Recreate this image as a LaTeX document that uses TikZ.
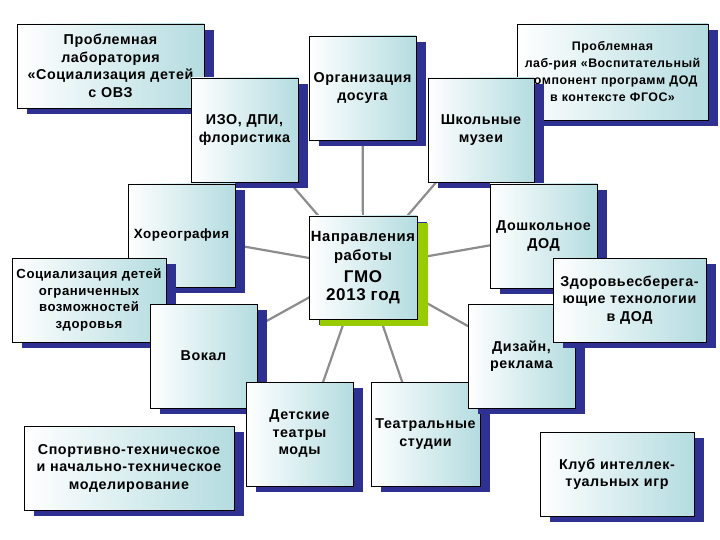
\documentclass[tikz,border=0pt]{standalone}
\usepackage{fontspec}
\setmainfont{Liberation Sans}[LetterSpace=4]
\usetikzlibrary{shadows}
\definecolor{navy}{HTML}{2E3192}
\definecolor{tealc}{HTML}{B4DCE0}
\definecolor{lime}{HTML}{99CC00}
\tikzset{
  bx/.style={draw=black, line width=0.8pt, left color=white, right color=tealc,
    inner sep=1pt, align=center, font=\fontsize{14.3}{17.5}\selectfont\bfseries,
    drop shadow={shadow xshift=10pt, shadow yshift=-6pt, fill=navy, opacity=1}},
  gbx/.style={bx, drop shadow={shadow xshift=11pt, shadow yshift=-7pt, fill=lime, opacity=1}},
  ln/.style={draw=gray!90, line width=2.2pt}
}
\begin{document}
\begin{tikzpicture}[x=1pt,y=-1pt]
\useasboundingbox (0,0) rectangle (720,540);
\coordinate (c) at (363,267.5);
\coordinate (pizo) at (244.5,130);
\coordinate (porg) at (362.5,88);
\coordinate (pshk) at (481,130);
\coordinate (phor) at (181.5,235.5);
\coordinate (pdosh) at (543.5,236);
\coordinate (pvok) at (203.5,356);
\coordinate (pdiz) at (521.5,356);
\coordinate (pdet) at (305,434);
\coordinate (pteat) at (420,434);
\foreach \p in {pizo,porg,pshk,phor,pdosh,pvok,pdiz,pdet,pteat} \draw[ln] (c) -- (\p);
\node[bx, minimum width=187pt, minimum height=84pt, text width=185pt] (b1) at (110.5,66) {Проблемная\\лаборатория\\«Социализация детей\\с ОВЗ};
\node[bx, minimum width=107pt, minimum height=104pt, text width=105pt] (org) at (porg) {Организация\\досуга};
\node[bx, minimum width=107pt, minimum height=104pt, text width=105pt] (izo) at (pizo) {ИЗО, ДПИ,\\флористика};
\node[bx, minimum width=191pt, minimum height=96pt, text width=189pt, font=\fontsize{12.4}{17}\selectfont\bfseries] (lab2) at (612.5,72) {Проблемная\\лаб-рия «Воспитательный\\компонент программ ДОД\\в контексте ФГОС»};
\node[bx, minimum width=106pt, minimum height=104pt, text width=104pt] (shk) at (pshk) {Школьные\\музеи};
\node[bx, minimum width=107pt, minimum height=103pt, text width=105pt, font=\fontsize{13.4}{16}\selectfont\bfseries] (hor) at (phor) {Хореография};
\node[bx, minimum width=154pt, minimum height=84pt, text width=152pt, font=\fontsize{13.2}{16.5}\selectfont\bfseries] (soc) at (89,300) {Социализация детей\\ограниченных\\возможностей\\здоровья};
\node[bx, minimum width=107pt, minimum height=104pt, text width=105pt] (vok) at (pvok) {Вокал};
\node[bx, minimum width=107pt, minimum height=104pt, text width=105pt] (det) at (299.5,434) {Детские\\театры\\моды\\[6pt]};
\node[bx, minimum width=107pt, minimum height=104pt, text width=107pt] (teat) at (425.5,434) {Театральные\\студии\\[8pt]};
\node[bx, minimum width=107pt, minimum height=104pt, text width=105pt] (diz) at (pdiz) {Дизайн,\\реклама};
\node[bx, minimum width=107pt, minimum height=104pt, text width=105pt] (dosh) at (pdosh) {Дошкольное\\ДОД};
\node[bx, minimum width=153pt, minimum height=84pt, text width=151pt] (zdor) at (629.5,300) {Здоровьесберега-\\ющие технологии\\в ДОД};
\node[gbx, minimum width=106pt, minimum height=103pt, text width=106pt] (cen) at (c) {\fontsize{14.8}{19}\selectfont Направления\\работы\\{\fontsize{17}{22}\selectfont ГМО\\2013 год}};
\node[bx, minimum width=210pt, minimum height=84pt, text width=208pt] (sport) at (129,468) {Спортивно-техническое\\и начально-техническое\\моделирование};
\node[bx, minimum width=154pt, minimum height=84pt, text width=152pt] (club) at (617,474) {Клуб интеллек-\\туальных игр};
\end{tikzpicture}
\end{document}
